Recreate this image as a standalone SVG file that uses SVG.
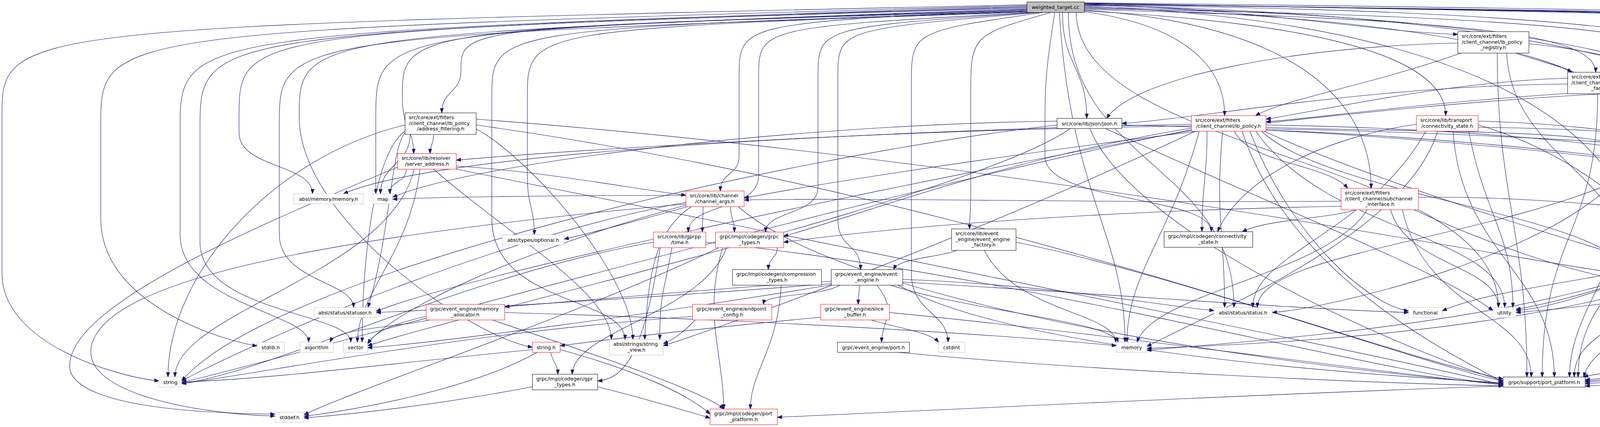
<svg xmlns="http://www.w3.org/2000/svg" width="5637" height="1093" viewBox="0 0 5637 1093">
<style>
text{font-family:"DejaVu Sans","Liberation Sans",Arial,sans-serif;font-size:12.7px;fill:#000}
.c{text-anchor:middle}
.n rect{fill:#fff;stroke:#000;stroke-width:1}
.g rect{fill:#fff;stroke:#bfbfbf;stroke-width:1}
.r rect{fill:#fff;stroke:#ff0000;stroke-width:1}
.root rect{fill:#bfbfbf;stroke:#000;stroke-width:1}
#edges path{fill:none;stroke:#191970;stroke-width:1.1;marker-end:url(#a)}
</style>
<defs>
<marker id="a" viewBox="0 0 12 9" refX="12" refY="4.5" markerWidth="12" markerHeight="9" markerUnits="userSpaceOnUse" orient="auto">
<path d="M0,0 L12,4.5 L0,9 z" fill="#191970" stroke="#191970" stroke-width="1"/>
</marker>
</defs>
<rect x="0" y="0" width="5637" height="1093" fill="#fff"/>
<g id="edges">
<path d="M2629,12 C5,70 5,70 5,300 L5,700 C5,880 300,965 407,975"/>
<path d="M2629,14 C258,80 258,80 258,320 L258,560 C258,760 520,860 658,886"/>
<path d="M2629,16 C461,85 461,85 461,330 L461,600 C461,780 790,800 790,876"/>
<path d="M2629,18 C512,85 512,85 512,330 L512,620 C512,800 898,800 898,876"/>
<path d="M2629,20 C612,80 612,80 612,300 L612,340 C612,430 800,420 800,496"/>
<path d="M2629,22 C766,90 766,90 766,300 C766,560 1200,860 1363,889"/>
<path d="M2629,24 C962,80 962,80 962,300 L962,496"/>
<path d="M2629,26 C1030,75 1030,75 1030,250 C1030,330 1059,330 1059,393"/>
<path d="M2629,28 C1180,70 1180,70 1180,180 C1180,240 1131,230 1131,289"/>
<path d="M2629,29 C1259,75 1259,75 1259,250 L1259,560 C1259,780 1600,760 1600,869"/>
<path d="M2629,30 C1350,75 1350,75 1350,250 L1350,450 C1350,530 1368,530 1368,601"/>
<path d="M2629,31 C715,95 715,95 715,320 L715,600 C715,720 905,720 905,787"/>
<path d="M2629,25 C1892,60 1892,60 1892,200 L1892,400 C1892,450 1844,440 1844,489"/>
<path d="M2640,32 C1942,70 1942,70 1942,200 L1942,450 C1942,540 1762,520 1762,594"/>
<path d="M2650,32 C2094,70 2094,70 2094,200 L2094,480 C2094,550 1960,540 1960,594"/>
<path d="M2660,32 C2145,75 2145,75 2145,200 L2145,560 C2145,640 2203,620 2203,690"/>
<path d="M2670,32 C2333,80 2333,80 2333,220 L2333,700 C2333,800 2427,800 2427,876"/>
<path d="M2712,32 C2740,500 2880,600 2880,876"/>
<path d="M2690,32 C2485,90 2485,90 2485,250 L2485,500 C2485,550 2482,550 2482,586"/>
<path d="M2720,32 C2720,170 2782,170 2782,303"/>
<path d="M2700,32 C2675,200 2675,200 2675,400 C2675,520 3101,500 3101,593"/>
<path d="M2735,32 C2735,420 3159,420 3159,787"/>
<path d="M2755,32 C2760,400 3836,400 3836,787"/>
<path d="M2776,12 C3200,20 3500,80 3732,88"/>
<path d="M2776,30 C3000,60 3135,150 3135,296"/>
<path d="M2776,28 C3400,60 3701,150 3701,296"/>
<path d="M2776,26 C3300,60 3510,250 3510,482"/>
<path d="M2776,24 C3700,50 4085,80 4085,185"/>
<path d="M2776,22 C3900,40 4382,80 4382,185"/>
<path d="M2776,20 C3900,50 4218,200 4218,393"/>
<path d="M2776,18 C4100,40 4600,200 4600,489"/>
<path d="M2776,16 C3900,60 4200,400 4200,690"/>
<path d="M2776,14 C4300,40 4691,300 4691,594"/>
<path d="M2776,13 C4500,30 4787,150 4787,393"/>
<path d="M2776,11 C5184,40 5184,40 5184,200 L5184,340 C5184,430 5027,420 5027,489"/>
<path d="M2776,10 C5286,45 5286,45 5286,220 L5286,600 C5286,720 4736,700 4736,779"/>
<path d="M2776,9 C5336,50 5336,50 5336,230 L5336,700 C5336,820 4530,800 4530,876"/>
<path d="M2776,8 C5387,55 5387,55 5387,240 L5387,800 C5387,920 4300,960 4058,975"/>
<path d="M2776,7 C4800,30 5400,50 5520,95"/>
<path d="M2776,9 C4800,40 5484,50 5484,192"/>
<path d="M3740,136 C3500,220 3300,250 3214,296"/>
<path d="M3880,136 C3950,160 4000,170 4024,185"/>
<path d="M3914,112 C4300,150 4570,300 4570,489"/>
<path d="M3732,110 C3300,120 2900,200 2833,303"/>
<path d="M3833,136 C3833,500 3909,600 3909,965"/>
<path d="M3857,136 C3870,400 4170,450 4170,690"/>
<path d="M4013,200 C3700,210 3400,280 3241,305"/>
<path d="M4013,215 C3500,220 3100,300 2872,316"/>
<path d="M4120,240 C4120,320 4194,320 4194,393"/>
<path d="M4150,240 C4200,380 4580,380 4580,489"/>
<path d="M4101,240 C4101,500 4185,500 4185,690"/>
<path d="M4090,240 C4090,600 3948,600 3948,965"/>
<path d="M4319,225 C3800,240 3400,300 3241,312"/>
<path d="M4319,232 C3500,250 2200,450 1905,507"/>
<path d="M4440,240 C4440,380 4590,380 4590,489"/>
<path d="M4480,240 C4600,380 4957,380 4957,489"/>
<path d="M4400,240 C4400,500 4230,500 4230,690"/>
<path d="M4380,240 C4300,600 3219,600 3219,787"/>
<path d="M4420,240 C4420,650 4040,650 4040,965"/>
<path d="M1110,344 C1110,370 1101,370 1101,393"/>
<path d="M1050,344 C1050,420 974,420 974,496"/>
<path d="M1037,320 C700,400 430,700 430,965"/>
<path d="M1037,335 C950,400 927,700 927,876"/>
<path d="M1037,340 C1000,380 1000,600 942,787"/>
<path d="M1219,330 C1350,400 1620,700 1620,869"/>
<path d="M1219,305 C2500,400 3800,650 4143,700"/>
<path d="M1219,320 C2500,500 3500,900 3848,970"/>
<path d="M2706,310 C2000,320 1200,420 1005,505"/>
<path d="M2706,320 C2000,400 700,700 465,975"/>
<path d="M2740,329 C2500,500 1200,800 941,885"/>
<path d="M2830,329 C3200,500 3700,700 3822,795"/>
<path d="M2872,320 C3400,330 3900,380 4142,408"/>
<path d="M2790,329 C2900,600 3600,900 3848,975"/>
<path d="M3050,318 C2400,330 1500,380 1168,410"/>
<path d="M3160,336 C3200,420 3400,420 3450,482"/>
<path d="M3241,320 C3900,330 4500,400 4555,489"/>
<path d="M3230,336 C3400,500 4100,550 4160,690"/>
<path d="M3241,326 C3700,340 4150,330 4179,393"/>
<path d="M3241,330 C3900,340 4500,390 4706,407"/>
<path d="M3241,333 C4000,360 4700,480 4907,509"/>
<path d="M3236,336 C3600,500 4300,700 4597,785"/>
<path d="M3090,336 C3090,450 3077,480 3077,593"/>
<path d="M3050,328 C2600,400 2200,550 2006,605"/>
<path d="M3130,336 C3110,550 3135,600 3135,787"/>
<path d="M3050,334 C2400,450 1200,700 963,797"/>
<path d="M3060,336 C2500,600 1900,820 1698,885"/>
<path d="M3200,336 C3300,600 3500,780 3606,796"/>
<path d="M3215,336 C3400,600 3852,600 3852,787"/>
<path d="M3070,336 C3000,600 2885,700 2885,876"/>
<path d="M3050,332 C2200,500 800,900 465,979"/>
<path d="M3180,336 C3300,700 3700,900 3848,978"/>
<path d="M3050,322 C2000,340 1100,400 879,496"/>
<path d="M3626,318 C3400,350 3180,450 3117,593"/>
<path d="M3650,336 C3500,600 3207,650 3207,787"/>
<path d="M3784,310 C4200,320 4540,400 4550,489"/>
<path d="M3784,320 C4000,380 4250,550 4250,690"/>
<path d="M3784,326 C4300,330 4927,400 4927,489"/>
<path d="M3760,336 C3800,550 3873,600 3873,787"/>
<path d="M3680,336 C3600,600 3100,800 2936,887"/>
<path d="M3720,336 C3740,650 3979,700 3979,965"/>
<path d="M3433,515 C2800,520 2200,505 1905,512"/>
<path d="M3470,537 C3400,560 3250,560 3180,593"/>
<path d="M3433,528 C2800,540 2300,580 2006,620"/>
<path d="M3631,505 C4000,500 4500,560 4651,605"/>
<path d="M3620,537 C3800,620 4000,690 4143,715"/>
<path d="M3500,537 C3400,700 2950,750 2911,876"/>
<path d="M3560,537 C3600,680 3836,680 3836,787"/>
<path d="M3590,537 C3650,800 3920,800 3920,965"/>
<path d="M1870,529 C1870,560 1880,560 1880,594"/>
<path d="M1800,529 C1800,560 1798,560 1798,594"/>
<path d="M1760,529 C1650,560 1500,600 1444,612"/>
<path d="M1770,529 C1660,600 1660,750 1650,869"/>
<path d="M1756,500 C1400,500 1100,505 1005,510"/>
<path d="M1756,518 C1300,600 700,850 465,975"/>
<path d="M1756,525 C1300,650 1000,800 941,880"/>
<path d="M1890,529 C2200,800 3400,950 3848,982"/>
<path d="M1756,522 C900,600 350,700 250,850 C150,1000 500,1060 704,1065"/>
<path d="M1040,433 C1040,470 998,460 998,496"/>
<path d="M1168,425 C1400,440 1600,480 1756,500"/>
<path d="M1060,433 C1000,700 448,800 448,965"/>
<path d="M1075,433 C1050,650 915,750 915,876"/>
<path d="M1168,433 C2000,600 3500,900 3848,985"/>
<path d="M1110,433 C1300,600 1565,750 1565,869"/>
<path d="M1018,428 C600,600 150,800 180,950 C210,1040 500,1058 704,1060"/>
<path d="M4160,433 C4000,650 3400,790 3257,800"/>
<path d="M4190,433 C4150,700 4018,800 4018,965"/>
<path d="M4276,420 C4600,430 4800,480 4907,500"/>
<path d="M4240,433 C4300,700 4480,750 4480,876"/>
<path d="M4720,433 C4700,460 4660,460 4650,489"/>
<path d="M4820,433 C4860,460 4920,460 4930,489"/>
<path d="M4770,433 C4780,650 4706,650 4706,779"/>
<path d="M4745,433 C4600,700 3900,700 3692,796"/>
<path d="M4735,433 C4500,850 3200,880 2936,892"/>
<path d="M4800,433 C4850,800 4300,960 4058,972"/>
<path d="M4830,433 C4900,750 4700,860 4585,884"/>
<path d="M4560,529 C4450,600 4260,620 4251,690"/>
<path d="M4620,529 C4620,650 4658,650 4658,779"/>
<path d="M4548,529 C4300,700 4000,770 3881,792"/>
<path d="M4555,529 C4200,820 3200,870 2936,897"/>
<path d="M4590,529 C4500,850 4100,800 4054,965"/>
<path d="M4660,529 C4700,560 4721,560 4721,594"/>
<path d="M4990,529 C5000,850 4400,960 4058,978"/>
<path d="M4651,620 C4500,650 4350,680 4281,703"/>
<path d="M4710,634 C4700,700 4680,700 4680,779"/>
<path d="M4760,634 C4800,800 4650,870 4585,878"/>
<path d="M4775,634 C4900,900 4300,970 4058,982"/>
<path d="M4660,634 C4400,760 4000,790 3881,800"/>
<path d="M4281,722 C4400,740 4500,780 4597,790"/>
<path d="M4143,725 C4050,760 3950,790 3881,795"/>
<path d="M4200,730 C4180,850 4030,850 4030,965"/>
<path d="M4720,819 C4720,850 4620,870 4585,889"/>
<path d="M4470,902 C4300,940 4100,950 4054,965"/>
<path d="M5485,232 C5465,850 5200,950 4058,988"/>
<path d="M3848,988 C3200,1010 2400,1050 1990,1068"/>
<path d="M1720,634 C1700,750 1689,750 1689,869"/>
<path d="M1690,634 C1650,900 1600,970 1530,975"/>
<path d="M1673,620 C1200,700 700,950 465,982"/>
<path d="M1807,620 C2600,700 3500,950 3848,985"/>
<path d="M1990,634 C1990,660 1967,660 1967,690"/>
<path d="M1860,634 C1800,800 1465,850 1465,958"/>
<path d="M1850,634 C1800,800 1850,900 1853,1047"/>
<path d="M1840,634 C1500,800 900,1000 778,1062"/>
<path d="M2000,730 C1990,900 1921,950 1921,1047"/>
<path d="M2450,641 C2400,660 2300,660 2288,690"/>
<path d="M2520,641 C2600,800 2856,800 2856,876"/>
<path d="M2601,620 C3000,700 3700,950 3848,975"/>
<path d="M2150,730 C2100,760 1960,750 1954,779"/>
<path d="M2200,730 C2200,750 2197,760 2197,779"/>
<path d="M2245,730 C2300,800 2257,820 2257,876"/>
<path d="M2128,720 C1800,740 1500,770 1292,785"/>
<path d="M2311,715 C2700,730 2950,780 3108,795"/>
<path d="M2128,726 C1700,760 1200,790 963,800"/>
<path d="M2311,722 C2800,750 3300,790 3606,800"/>
<path d="M2128,729 C1700,800 1100,880 941,890"/>
<path d="M2280,730 C2500,800 2840,820 2863,876"/>
<path d="M2300,730 C2600,900 3500,960 3848,980"/>
<path d="M1780,819 C1740,860 1720,870 1698,880"/>
<path d="M1773,810 C1200,850 700,950 465,982"/>
<path d="M2230,819 C2300,840 2380,850 2403,876"/>
<path d="M2101,812 C1800,840 1550,870 1434,885"/>
<path d="M2277,800 C2800,850 3500,950 3848,985"/>
<path d="M1100,819 C1000,840 860,840 845,876"/>
<path d="M1091,810 C1000,830 960,850 941,880"/>
<path d="M1292,800 C2000,820 2600,860 2858,885"/>
<path d="M1260,819 C1500,900 1800,1000 1853,1047"/>
<path d="M2300,902 C2800,950 3500,980 3848,988"/>
<path d="M1410,902 C1415,930 1428,930 1428,958"/>
<path d="M1375,902 C1200,1000 900,1050 778,1066"/>
<path d="M1363,895 C1000,930 700,970 465,978"/>
<path d="M1434,895 C1600,940 1750,1000 1818,1060"/>
<path d="M1530,990 C1650,1020 1750,1050 1818,1070"/>
<path d="M1363,990 C1100,1040 900,1060 778,1070"/>
</g>
<g id="node-weighted_target" class="root"><rect x="2629" y="5" width="147" height="27"/><text class="c" x="2702" y="23">weighted_target.cc</text></g>
<g id="node-lb_policy_registry" class="n"><rect x="3732" y="81" width="182" height="55"/><text x="3742" y="97">src/core/ext/filters</text><text x="3742" y="111.5">/client_channel/lb_policy</text><text class="c" x="3823" y="126">_registry.h</text></g>
<g id="node-lb_policy_factory" class="n"><rect x="4013" y="185" width="182" height="55"/><text x="4023" y="201">src/core/ext/filters</text><text x="4023" y="215.5">/client_channel/lb_policy</text><text class="c" x="4104" y="230">_factory.h</text></g>
<g id="node-child_policy_handler" class="n"><rect x="4319" y="185" width="183" height="55"/><text x="4329" y="201">src/core/ext/filters</text><text x="4329" y="215.5">/client_channel/lb_policy</text><text class="c" x="4410" y="230">/child_policy_handler.h</text></g>
<g id="node-str_cat" class="g"><rect x="5475" y="95" width="158" height="26"/><text class="c" x="5554" y="112.5">absl/strings/str_cat.h</text></g>
<g id="node-pollset_set" class="r"><rect x="5425" y="192" width="135" height="40"/><text x="5435" y="208">src/core/lib/iomgr</text><text class="c" x="5492" y="222.5">/pollset_set.h</text></g>
<g id="node-address_filtering" class="n"><rect x="1037" y="289" width="182" height="55"/><text x="1047" y="305">src/core/ext/filters</text><text x="1047" y="319.5">/client_channel/lb_policy</text><text class="c" x="1128" y="334">/address_filtering.h</text></g>
<g id="node-json" class="n"><rect x="2706" y="303" width="166" height="26"/><text class="c" x="2789" y="320.5">src/core/lib/json/json.h</text></g>
<g id="node-lb_policy" class="r"><rect x="3050" y="296" width="191" height="40"/><text x="3060" y="312">src/core/ext/filters</text><text class="c" x="3145" y="326.5">/client_channel/lb_policy.h</text></g>
<g id="node-transport_connectivity_state" class="r"><rect x="3626" y="296" width="158" height="40"/><text x="3636" y="312">src/core/lib/transport</text><text class="c" x="3705" y="326.5">/connectivity_state.h</text></g>
<g id="node-error" class="r"><rect x="4142" y="393" width="134" height="40"/><text x="4152" y="409">src/core/lib/iomgr</text><text class="c" x="4209" y="423.5">/error.h</text></g>
<g id="node-work_serializer" class="r"><rect x="4706" y="393" width="137" height="40"/><text x="4716" y="409">src/core/lib/iomgr</text><text class="c" x="4774" y="423.5">/work_serializer.h</text></g>
<g id="node-server_address" class="r"><rect x="1018" y="393" width="150" height="40"/><text x="1028" y="409">src/core/lib/resolver</text><text class="c" x="1093" y="423.5">/server_address.h</text></g>
<g id="node-channel_args" class="r"><rect x="1756" y="489" width="149" height="40"/><text x="1766" y="505">src/core/lib/channel</text><text class="c" x="1830" y="519.5">/channel_args.h</text></g>
<g id="node-subchannel_interface" class="r"><rect x="3433" y="482" width="198" height="55"/><text x="3443" y="498">src/core/ext/filters</text><text x="3443" y="512.5">/client_channel/subchannel</text><text class="c" x="3532" y="527">_interface.h</text></g>
<g id="node-orphanable" class="r"><rect x="4545" y="489" width="134" height="40"/><text x="4555" y="505">src/core/lib/gprpp</text><text class="c" x="4612" y="519.5">/orphanable.h</text></g>
<g id="node-trace" class="r"><rect x="4907" y="489" width="138" height="40"/><text x="4917" y="505">src/core/lib/debug</text><text class="c" x="4976" y="519.5">/trace.h</text></g>
<g id="node-absl_memory" class="g"><rect x="752" y="496" width="178" height="26"/><text class="c" x="841" y="513.5">absl/memory/memory.h</text></g>
<g id="node-map" class="g"><rect x="955" y="496" width="50" height="26"/><text class="c" x="980" y="513.5">map</text></g>
<g id="node-optional" class="g"><rect x="1286" y="601" width="158" height="26"/><text class="c" x="1365" y="618.5">absl/types/optional.h</text></g>
<g id="node-time" class="r"><rect x="1673" y="594" width="134" height="40"/><text x="1683" y="610">src/core/lib/gprpp</text><text class="c" x="1740" y="624.5">/time.h</text></g>
<g id="node-grpc_types" class="r"><rect x="1832" y="594" width="174" height="40"/><text x="1842" y="610">grpc/impl/codegen/grpc</text><text class="c" x="1919" y="624.5">_types.h</text></g>
<g id="node-event_engine_factory" class="n"><rect x="2436" y="586" width="165" height="55"/><text x="2446" y="602">src/core/lib/event</text><text x="2446" y="616.5">_engine/event_engine</text><text class="c" x="2518" y="631">_factory.h</text></g>
<g id="node-codegen_connectivity_state" class="n"><rect x="2980" y="593" width="227" height="40"/><text x="2990" y="609">grpc/impl/codegen/connectivity</text><text class="c" x="3093" y="623.5">_state.h</text></g>
<g id="node-ref_counted" class="r"><rect x="4651" y="594" width="134" height="40"/><text x="4661" y="610">src/core/lib/gprpp</text><text class="c" x="4718" y="624.5">/ref_counted.h</text></g>
<g id="node-compression_types" class="n"><rect x="1875" y="690" width="228" height="40"/><text x="1885" y="706">grpc/impl/codegen/compression</text><text class="c" x="1989" y="720.5">_types.h</text></g>
<g id="node-event_engine" class="n"><rect x="2128" y="690" width="183" height="40"/><text x="2138" y="706">grpc/event_engine/event</text><text class="c" x="2219" y="720.5">_engine.h</text></g>
<g id="node-ref_counted_ptr" class="r"><rect x="4143" y="690" width="138" height="40"/><text x="4153" y="706">src/core/lib/gprpp</text><text class="c" x="4212" y="720.5">/ref_counted_ptr.h</text></g>
<g id="node-memory_allocator" class="r"><rect x="1091" y="779" width="201" height="40"/><text x="1101" y="795">grpc/event_engine/memory</text><text class="c" x="1191" y="809.5">_allocator.h</text></g>
<g id="node-endpoint_config" class="r"><rect x="1773" y="779" width="203" height="40"/><text x="1783" y="795">grpc/event_engine/endpoint</text><text class="c" x="1874" y="809.5">_config.h</text></g>
<g id="node-slice_buffer" class="r"><rect x="2101" y="779" width="176" height="40"/><text x="2111" y="795">grpc/event_engine/slice</text><text class="c" x="2189" y="809.5">_buffer.h</text></g>
<g id="node-statusor" class="g"><rect x="804" y="787" width="159" height="26"/><text class="c" x="883" y="804.5">absl/status/statusor.h</text></g>
<g id="node-status" class="g"><rect x="3108" y="787" width="149" height="26"/><text class="c" x="3182" y="804.5">absl/status/status.h</text></g>
<g id="node-functional" class="g"><rect x="3606" y="787" width="86" height="26"/><text class="c" x="3649" y="804.5">functional</text></g>
<g id="node-utility" class="g"><rect x="3822" y="787" width="59" height="26"/><text class="c" x="3851" y="804.5">utility</text></g>
<g id="node-debug_location" class="n"><rect x="4597" y="779" width="136" height="40"/><text x="4607" y="795">src/core/lib/gprpp</text><text class="c" x="4665" y="809.5">/debug_location.h</text></g>
<g id="node-stdlib" class="g"><rect x="658" y="876" width="70" height="26"/><text class="c" x="693" y="893.5">stdlib.h</text></g>
<g id="node-algorithm" class="g"><rect x="768" y="876" width="85" height="26"/><text class="c" x="810" y="893.5">algorithm</text></g>
<g id="node-vector" class="g"><rect x="879" y="876" width="62" height="26"/><text class="c" x="910" y="893.5">vector</text></g>
<g id="node-string_h" class="r"><rect x="1363" y="876" width="71" height="26"/><text class="c" x="1398" y="893.5">string.h</text></g>
<g id="node-string_view" class="g"><rect x="1560" y="869" width="138" height="40"/><text x="1570" y="885">absl/strings/string</text><text class="c" x="1629" y="899.5">_view.h</text></g>
<g id="node-port" class="n"><rect x="2144" y="876" width="184" height="26"/><text class="c" x="2236" y="893.5">grpc/event_engine/port.h</text></g>
<g id="node-cstdint" class="g"><rect x="2403" y="876" width="67" height="26"/><text class="c" x="2436" y="893.5">cstdint</text></g>
<g id="node-memory" class="g"><rect x="2858" y="876" width="78" height="26"/><text class="c" x="2897" y="893.5">memory</text></g>
<g id="node-log" class="r"><rect x="4447" y="876" width="138" height="26"/><text class="c" x="4516" y="893.5">grpc/support/log.h</text></g>
<g id="node-string" class="g"><rect x="407" y="965" width="58" height="26"/><text class="c" x="436" y="982.5">string</text></g>
<g id="node-gpr_types" class="n"><rect x="1363" y="958" width="167" height="40"/><text x="1373" y="974">grpc/impl/codegen/gpr</text><text class="c" x="1446" y="988.5">_types.h</text></g>
<g id="node-port_platform" class="n"><rect x="3848" y="965" width="210" height="26"/><text class="c" x="3953" y="982.5">grpc/support/port_platform.h</text></g>
<g id="node-stddef" class="g"><rect x="704" y="1055" width="74" height="26"/><text class="c" x="741" y="1072.5">stddef.h</text></g>
<g id="node-codegen_port_platform" class="r"><rect x="1818" y="1047" width="172" height="40"/><text x="1828" y="1063">grpc/impl/codegen/port</text><text class="c" x="1904" y="1077.5">_platform.h</text></g>
</svg>
